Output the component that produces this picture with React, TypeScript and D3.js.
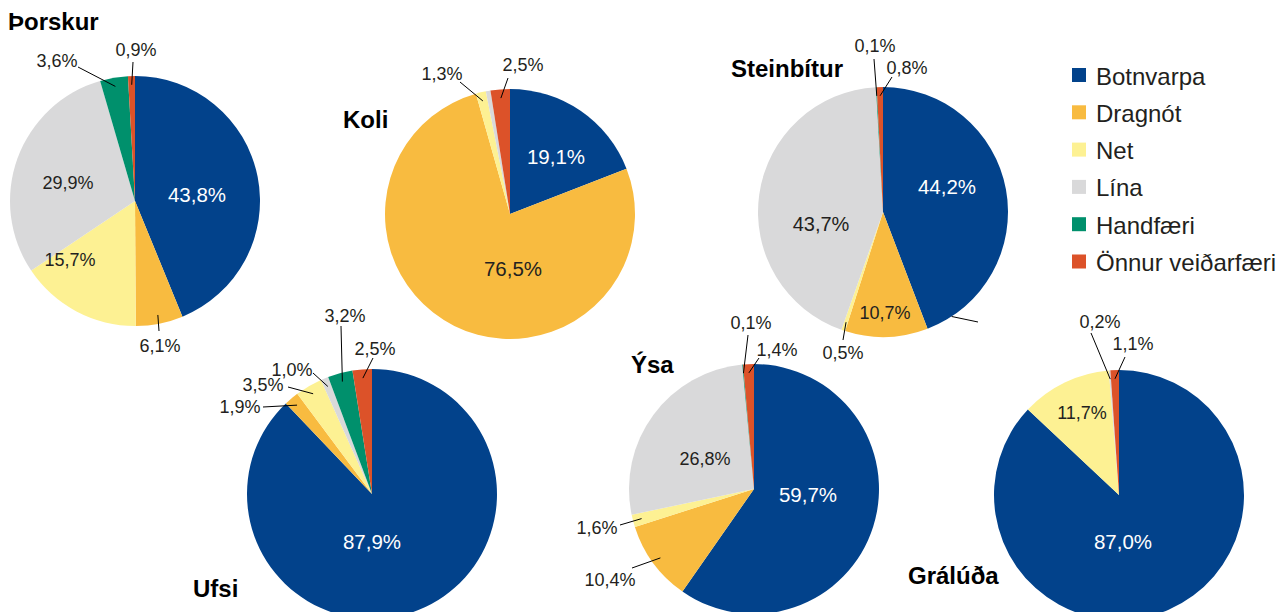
import React from "react";
import * as d3 from "d3";

const seriesNames = ["Botnvarpa", "Dragnót", "Net", "Lína", "Handfæri", "Önnur veiðarfæri"];
const seriesColors = ["#02428b", "#f8bb40", "#fdf193", "#d9d9da", "#00906c", "#dc5229"];

const species = ["Þorskur", "Koli", "Steinbítur", "Ufsi", "Ýsa", "Grálúða"];
const thorskur = [43.8, 6.1, 15.7, 29.9, 3.6, 0.9];
const koli = [19.1, 76.5, 1.3, 0.6, 0, 2.5];
const steinbitur = [44.2, 10.7, 0.5, 43.7, 0.1, 0.8];
const ufsi = [87.9, 1.9, 3.5, 1.0, 3.2, 2.5];
const ysa = [59.7, 10.4, 1.6, 26.8, 0.1, 1.4];
const graluda = [87.0, 0, 11.7, 0.2, 0, 1.1];
const speciesValues = [thorskur, koli, steinbitur, ufsi, ysa, graluda];

// layout (positions only)
type Lab = { i: number; x: number; y: number; white?: boolean; lx?: number; ly?: number; fs?: number };
const R = 125;
const pieLayout: { cx: number; cy: number; tx: number; ty: number; labels: Lab[]; extra?: { a: number; lx: number; ly: number }[] }[] = [
  {
    cx: 135, cy: 201, tx: 8, ty: 30,
    labels: [
      { i: 0, x: 197, y: 194, white: true },
      { i: 1, x: 160, y: 346, lx: 159, ly: 331 },
      { i: 2, x: 70, y: 260 },
      { i: 3, x: 68, y: 183 },
      { i: 4, x: 57, y: 61, lx: 78, ly: 67 },
      { i: 5, x: 136, y: 50, lx: 133, ly: 62 },
    ],
  },
  {
    cx: 510, cy: 214, tx: 343, ty: 128,
    labels: [
      { i: 0, x: 556, y: 156, white: true },
      { i: 1, x: 513, y: 268, fs: 20.5 },
      { i: 2, x: 442, y: 74, lx: 460, ly: 82 },
      { i: 5, x: 523, y: 65, lx: 508, ly: 78 },
    ],
  },
  {
    cx: 883, cy: 212, tx: 731, ty: 77,
    labels: [
      { i: 0, x: 947, y: 186, white: true },
      { i: 1, x: 885, y: 313 },
      { i: 2, x: 843, y: 353, lx: 843, ly: 340 },
      { i: 3, x: 821, y: 224, fs: 20 },
      { i: 4, x: 875, y: 46, lx: 874, ly: 59 },
      { i: 5, x: 907, y: 68, lx: 892, ly: 77 },
    ],
    extra: [{ a: 146.7, lx: 978, ly: 322 }],
  },
  {
    cx: 372, cy: 494, tx: 193, ty: 597,
    labels: [
      { i: 0, x: 372, y: 541, white: true },
      { i: 1, x: 240, y: 407, lx: 263, ly: 407 },
      { i: 2, x: 263, y: 385, lx: 288, ly: 387 },
      { i: 3, x: 292, y: 370, lx: 313, ly: 373 },
      { i: 4, x: 345, y: 316, lx: 341, ly: 326 },
      { i: 5, x: 375, y: 349, lx: 373, ly: 358 },
    ],
  },
  {
    cx: 754, cy: 489, tx: 631, ty: 373,
    labels: [
      { i: 0, x: 808, y: 494, white: true },
      { i: 1, x: 610, y: 580, lx: 632, ly: 568 },
      { i: 2, x: 597, y: 528, lx: 620, ly: 525 },
      { i: 3, x: 705, y: 459 },
      { i: 4, x: 751, y: 323, lx: 748, ly: 335 },
      { i: 5, x: 777, y: 350, lx: 759, ly: 358 },
    ],
  },
  {
    cx: 1119, cy: 495, tx: 908, ty: 584,
    labels: [
      { i: 0, x: 1123, y: 541, white: true },
      { i: 2, x: 1082, y: 413 },
      { i: 3, x: 1100, y: 322, lx: 1091, ly: 333 },
      { i: 5, x: 1133, y: 344, lx: 1125, ly: 357 },
    ],
  },
];

const fmt = (v: number) => v.toFixed(1).replace(".", ",") + "%";
const FONT = "Liberation Sans, Arial, Helvetica, sans-serif";
const TEXT = "#231f20";

export default function App() {
  const pie = d3.pie<number>().sort(null).value((d) => d);
  const arc = d3.arc<d3.PieArcDatum<number>>().innerRadius(0).outerRadius(R);
  const W = 1287, H = 612;
  return (
    <svg width={W} height={H} style={{ position: "absolute", left: 0, top: 0, background: "#fff" }} fontFamily={FONT}>
      {speciesValues.map((vals, p) => {
        const L = pieLayout[p];
        const arcs = pie(vals);
        return (
          <g key={p}>
            <g transform={`translate(${L.cx},${L.cy})`}>
              {arcs.map((a, i) => (a.value > 0 ? <path key={i} d={arc(a) || ""} fill={seriesColors[i]} /> : null))}
            </g>
            {L.labels.map((lab, k) => {
              const a = arcs[lab.i];
              const mid = (a.startAngle + a.endAngle) / 2;
              const r0 = R * 0.93;
              const sx = L.cx + Math.sin(mid) * r0;
              const sy = L.cy - Math.cos(mid) * r0;
              const fs = lab.fs ?? (lab.white ? 20.5 : 18);
              return (
                <g key={k}>
                  {lab.lx !== undefined && (
                    <line x1={sx} y1={sy} x2={lab.lx} y2={lab.ly} stroke="#000" strokeWidth={1} />
                  )}
                  <text x={lab.x} y={lab.y} textAnchor="middle" dominantBaseline="central" fontSize={fs} fill={lab.white ? "#fff" : TEXT}>
                    {fmt(vals[lab.i])}
                  </text>
                </g>
              );
            })}
            {(L.extra || []).map((e, k) => {
              const ang = (e.a * Math.PI) / 180;
              return (
                <line key={"e" + k} x1={L.cx + Math.sin(ang) * R} y1={L.cy - Math.cos(ang) * R} x2={e.lx} y2={e.ly} stroke="#000" strokeWidth={1} />
              );
            })}
            <text x={L.tx} y={L.ty} fontSize={24} fontWeight="bold" fill="#000">
              {species[p]}
            </text>
          </g>
        );
      })}
      {seriesNames.map((n, i) => (
        <g key={n} transform={`translate(1072,${75 + i * 37.3})`}>
          <rect x={0} y={-7} width={14} height={14} fill={seriesColors[i]} />
          <text x={24} y={1} dominantBaseline="central" fontSize={24} fill={TEXT}>
            {n}
          </text>
        </g>
      ))}
    </svg>
  );
}
